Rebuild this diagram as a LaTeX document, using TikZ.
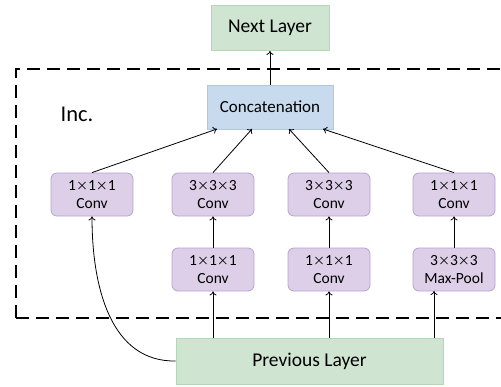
\documentclass[tikz,border=0pt]{standalone}
\usepackage{fontspec}
\setmainfont{Carlito}
\newfontfamily\cjk{Noto Sans CJK SC}
\usetikzlibrary{arrows.meta}
\definecolor{gfill}{HTML}{CFE5D2}
\definecolor{gdraw}{HTML}{B3D8B5}
\definecolor{bfill}{HTML}{C8DAEE}
\definecolor{bdraw}{HTML}{AEC6E4}
\definecolor{pfill}{HTML}{DCCFE7}
\definecolor{pdraw}{HTML}{B9A2CF}
\newcommand{\tms}{{\cjk\fontsize{12}{12}\selectfont ×}}
\tikzset{
  greenbox/.style={draw=gdraw, fill=gfill, line width=0.8pt, inner sep=0pt},
  bluebox/.style={draw=bdraw, fill=bfill, line width=0.8pt, inner sep=0pt},
  opbox/.style={draw=pdraw, fill=pfill, line width=0.8pt, rounded corners=6pt, inner sep=0pt,
     minimum width=82pt, minimum height=43pt, align=center, font=\fontsize{15.5}{17.5}\selectfont},
  conn/.style={-{To[length=4pt,width=7pt]}, line width=0.8pt, black},
}
\begin{document}
\begin{tikzpicture}[x=1pt,y=-1pt]
\useasboundingbox (0,0) rectangle (501,386);
\clip (0,0) rectangle (501,386);
% dashed frame
\draw[dash pattern=on 13pt off 7pt, line width=1.5pt] (16,318) -- (16,69) -- (520,69);
\draw[dash pattern=on 13pt off 7pt, line width=1.5pt] (16,318) -- (520,318);
\node[greenbox, minimum width=118pt, minimum height=45pt, font=\fontsize{19.5}{22}\selectfont] (next) at (270,28) {Next Layer};
\node[bluebox, minimum width=126pt, minimum height=44pt, font=\fontsize{17}{20}\selectfont] (cat) at (270,107) {Concatenation};
\node[font=\fontsize{22.5}{26}\selectfont] (inc) at (77,114) {Inc.};
\node[opbox] (a1) at (92,194.5) {1\tms1\tms1\\Conv};
\node[opbox] (b1) at (213,194.5) {3\tms3\tms3\\Conv};
\node[opbox] (c1) at (329,194.5) {3\tms3\tms3\\Conv};
\node[opbox] (d1) at (454,194.5) {1\tms1\tms1\\Conv};
\node[opbox] (b2) at (213,269.5) {1\tms1\tms1\\Conv};
\node[opbox] (c2) at (329,269.5) {1\tms1\tms1\\Conv};
\node[opbox] (d2) at (454,269.5) {3\tms3\tms3\\Max-Pool};
\node[greenbox, minimum width=267pt, minimum height=46pt, font=\fontsize{19.5}{22}\selectfont] (prev) at (309.5,361) {Previous Layer};
\coordinate (ca) at (217,129);
\coordinate (cb) at (252,129);
\coordinate (cc) at (289,129);
\coordinate (cd) at (323,129);
\coordinate (pd) at (434,291);
% arrows
\draw[conn] (cat.north) -- (next.south);
\draw[conn] (a1.north) -- (ca);
\draw[conn] (b1.north) -- (cb);
\draw[conn] (c1.north) -- (cc);
\draw[conn] (d1.north) -- (cd);
\draw[conn] (b2.north) -- (b1.south);
\draw[conn] (c2.north) -- (c1.south);
\draw[conn] (d2.north) -- (d1.south);
\draw[conn] (prev.north -| b2) -- (b2.south);
\draw[conn] (prev.north -| c2) -- (c2.south);
\draw[conn] (prev.north -| pd) -- (pd);
\draw[conn] (prev.west) .. controls (112,362) and (92,290) .. (a1.south);
\end{tikzpicture}
\end{document}
